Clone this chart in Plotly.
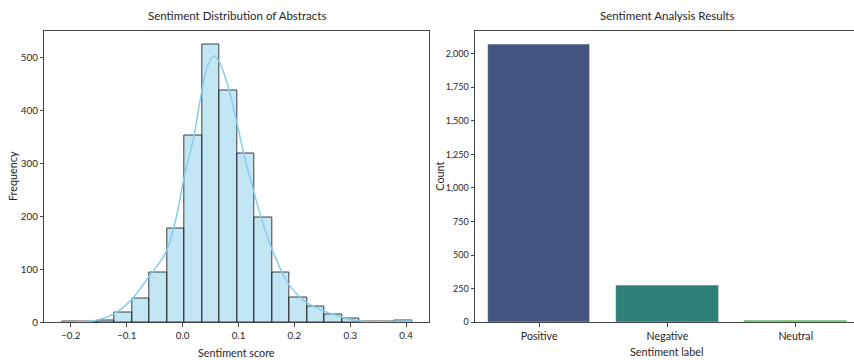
import plotly.graph_objects as go

# ---------------- data ----------------
bin_edges = [-0.216, -0.1847, -0.1534, -0.1221, -0.0908, -0.0595, -0.0282, 0.0031,
             0.0344, 0.0657, 0.097, 0.1283, 0.1596, 0.1909, 0.2222, 0.2535,
             0.2848, 0.3161, 0.3474, 0.3787, 0.41]
bin_counts = [1, 1, 3, 18, 45, 94, 177, 352, 525, 437, 319, 198, 94, 46, 29, 14, 8, 1, 1, 4]

kde_x = [-0.216, -0.185, -0.154, -0.123, -0.093, -0.062, -0.031, -0.012, 0.003, 0.02,
         0.034, 0.045, 0.0566, 0.0656, 0.08, 0.0955, 0.11, 0.125, 0.14, 0.156, 0.172,
         0.187, 0.203, 0.218, 0.249, 0.28, 0.312, 0.343, 0.37, 0.41]
kde_y = [0.5, 1, 4, 16, 41, 84, 130, 195, 275, 350,
         435, 485, 503, 492, 451, 385, 316, 256, 200, 149, 108,
         76, 55, 40, 23, 11, 3, 1, 1.5, 2.5]

labels = ["Positive", "Negative", "Neutral"]
label_counts = [2069, 277, 17]
label_colors = ["#44557f", "#2e8078", "#5cb85c"]

x_ticks_left = [-0.2, -0.1, 0.0, 0.1, 0.2, 0.3, 0.4]
y_ticks_left = [0, 100, 200, 300, 400, 500]
y_ticks_right = [0, 250, 500, 750, 1000, 1250, 1500, 1750, 2000]

# ---------------- figure ----------------
W, H = 854, 360
FONT = "Lato"
TXT = "#262626"
AX = "#444444"

centers = [(bin_edges[i] + bin_edges[i + 1]) / 2 for i in range(len(bin_counts))]
widths = [bin_edges[i + 1] - bin_edges[i] for i in range(len(bin_counts))]

fig = go.Figure()
fig.add_trace(go.Bar(
    x=centers, y=bin_counts, width=widths,
    marker=dict(color="rgba(135,206,235,0.5)", line=dict(color="rgba(30,30,30,0.85)", width=1)),
    xaxis="x", yaxis="y", showlegend=False, hoverinfo="skip"))
fig.add_trace(go.Scatter(
    x=kde_x, y=kde_y, mode="lines", line=dict(color="#87ceeb", width=1.5, shape="spline", smoothing=1.0),
    xaxis="x", yaxis="y", showlegend=False, hoverinfo="skip"))
fig.add_trace(go.Bar(
    x=labels, y=label_counts, width=0.8,
    marker=dict(color=label_colors, line=dict(color="rgba(255,255,255,0.6)", width=0.8)),
    xaxis="x2", yaxis="y2", showlegend=False, hoverinfo="skip"))

def px_x(p):
    return p / W

def px_y(p):
    return 1 - p / H

tickfont = dict(family=FONT, size=9.8, color=TXT)
labfont = dict(family=FONT, size=10.8, color=TXT)
ttlfont = dict(family=FONT, size=11.5, color=TXT)

common_axis = dict(showgrid=False, zeroline=False, showline=True, linecolor=AX, linewidth=1,
                   ticks="outside", ticklen=3.5, tickwidth=0.8, tickcolor=AX, tickfont=tickfont,
                   automargin=False)

bin_span = bin_edges[-1] - bin_edges[0]
fig.update_layout(
    width=W, height=H,
    margin=dict(l=0, r=0, t=0, b=0),
    paper_bgcolor="white", plot_bgcolor="white",
    bargap=0,
    xaxis=dict(common_axis, domain=[px_x(44.3), px_x(429.3)], anchor="y", mirror=True,
               range=[bin_edges[0] - 0.05 * bin_span, bin_edges[-1] + 0.05 * bin_span],
               tickvals=x_ticks_left, tickformat=".1f"),
    yaxis=dict(common_axis, domain=[px_y(322.3), px_y(30.5)], anchor="x", mirror=True,
               range=[0, max(bin_counts) * 1.05], tickvals=y_ticks_left),
    xaxis2=dict(common_axis, domain=[px_x(475), 1.0], anchor="y2", mirror=True,
                range=[-0.5, -0.5 + (W - 475) / 128.3], type="category",
                tickfont=dict(family=FONT, size=10.6, color=TXT)),
    yaxis2=dict(common_axis, domain=[px_y(322.3), px_y(30.5)], anchor="x2", mirror=False,
                range=[0, max(label_counts) * 1.05], tickvals=y_ticks_right, tickformat=",d",
                tickfont=dict(family=FONT, size=9, color=TXT)),
    annotations=[
        dict(text="Sentiment Distribution of Abstracts", x=px_x(236.8), y=px_y(16), xref="paper", yref="paper",
             showarrow=False, xanchor="center", yanchor="middle", font=ttlfont),
        dict(text="Sentiment Analysis Results", x=px_x(667), y=px_y(16), xref="paper", yref="paper",
             showarrow=False, xanchor="center", yanchor="middle", font=ttlfont),
        dict(text="Sentiment score", x=px_x(236.8), y=px_y(352.5), xref="paper", yref="paper",
             showarrow=False, xanchor="center", yanchor="middle", font=labfont),
        dict(text="Sentiment label", x=px_x(667), y=px_y(351.5), xref="paper", yref="paper",
             showarrow=False, xanchor="center", yanchor="middle", font=labfont),
        dict(text="Frequency", x=px_x(12.7), y=px_y(176.4), xref="paper", yref="paper", textangle=-90,
             showarrow=False, xanchor="center", yanchor="middle", font=labfont),
        dict(text="Count", x=px_x(439.3), y=px_y(176.4), xref="paper", yref="paper", textangle=-90,
             showarrow=False, xanchor="center", yanchor="middle", font=labfont),
    ],
)

fig.write_html("out.html", config={"displayModeBar": False},
               post_script="document.body.style.margin='0';document.body.style.overflow='hidden';")
